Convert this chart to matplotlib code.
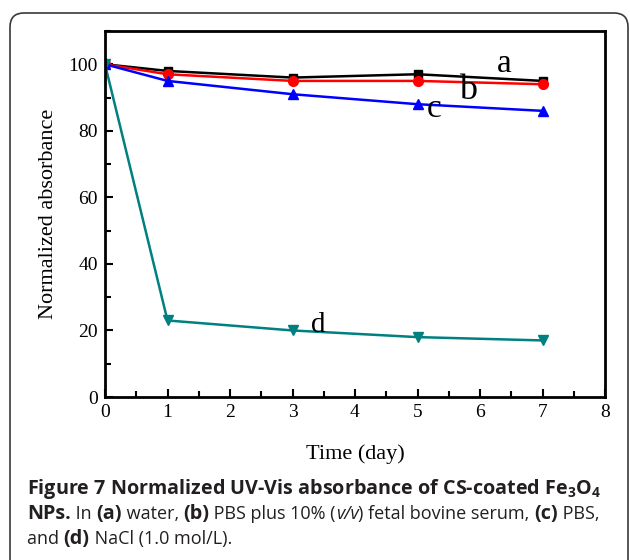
import matplotlib
matplotlib.use("Agg")
import matplotlib.pyplot as plt
from matplotlib.patches import FancyBboxPatch
from matplotlib.ticker import MultipleLocator

# data
days = [0, 1, 3, 5, 7]
water = [100, 98, 96, 97, 95]
pbs_serum = [100, 97, 95, 95, 94]
pbs = [100, 95, 91, 88, 86]
nacl = [100, 23, 20, 18, 17]

serif = "Liberation Serif"
cap_font = "Open Sans"
cap_color = "#231f20"

fig = plt.figure(figsize=(6.3, 5.6), dpi=100)
W, H = 630, 560

# rounded frame round the whole figure
frame = FancyBboxPatch((0.10, -0.3), 6.18, 5.77,
                       boxstyle="round,pad=0,rounding_size=0.14",
                       transform=fig.dpi_scale_trans, fill=False,
                       edgecolor="#3a3a3a", linewidth=1.2)
fig.patches.append(frame)

ax = fig.add_axes([105 / W, 1 - 397 / H, 500 / W, 366 / H])

ax.plot(days, water, color="black", marker="s", markersize=6, linewidth=1.8)
ax.plot(days, pbs_serum, color="red", marker="o", markersize=7, linewidth=1.8)
ax.plot(days, pbs, color="blue", marker="^", markersize=7, linewidth=1.8)
ax.plot(days, nacl, color="#008080", marker="v", markersize=7, linewidth=1.8)

ax.text(6.38, 97.7, "a", fontsize=24, family=serif, ha="center", va="baseline")
ax.text(5.81, 89.6, "b", fontsize=26, family=serif, ha="center", va="baseline")
ax.text(5.26, 84.2, "c", fontsize=24, family=serif, ha="center", va="baseline")
ax.text(3.42, 19.5, "d", fontsize=21, family=serif, ha="center", va="baseline")

ax.set_xlim(0, 8)
ax.set_ylim(0, 110)
ax.xaxis.set_major_locator(MultipleLocator(1))
ax.xaxis.set_minor_locator(MultipleLocator(0.5))
ax.yaxis.set_minor_locator(MultipleLocator(10))
ax.set_yticks([0, 20, 40, 60, 80, 100])
ax.tick_params(which="both", direction="in", top=False, right=False, width=1.5)
ax.tick_params(which="major", length=6, labelsize=14, pad=5)
ax.tick_params(which="minor", length=4)
for lab in ax.get_xticklabels() + ax.get_yticklabels():
    lab.set_family(serif)
for s in ax.spines.values():
    s.set_linewidth(2)

ax.set_xlabel("Time (day)", fontsize=16, family=serif, labelpad=17)
ax.set_ylabel("Normalized absorbance", fontsize=16, family=serif, labelpad=8)

# caption, written piece by piece to mix bold / regular / italic
plt.rcParams["mathtext.fontset"] = "custom"
plt.rcParams["mathtext.rm"] = "Open Sans"
plt.rcParams["mathtext.bf"] = "Open Sans:bold"

caption = [
    [("Figure 7 Normalized UV-Vis absorbance of CS-coated Fe$_\\mathbf{3}$O$_\\mathbf{4}$", "bold", "normal")],
    [("NPs.", "bold", "normal"), (" In ", "normal", "normal"), ("(a)", "bold", "normal"),
     (" water, ", "normal", "normal"), ("(b)", "bold", "normal"),
     (" PBS plus 10% (", "normal", "normal"), ("v/v", "normal", "italic"),
     (") fetal bovine serum, ", "normal", "normal"), ("(c)", "bold", "normal"),
     (" PBS,", "normal", "normal")],
    [("and ", "normal", "normal"), ("(d)", "bold", "normal"),
     (" NaCl (1.0 mol/L).", "normal", "normal")],
]
baselines = [494, 519, 544]
sizes = {"bold": 14.2, "normal": 13}

fig.canvas.draw()
renderer = fig.canvas.get_renderer()
for line, yb in zip(caption, baselines):
    x = 27
    for txt, weight, style in line:
        t = fig.text(x / W, 1 - yb / H, txt, fontsize=sizes[weight], family=cap_font,
                     weight=weight, style=style, color=cap_color,
                     ha="left", va="baseline")
        bb = t.get_window_extent(renderer)
        x = bb.x1

fig.savefig("out.png", dpi=100)
